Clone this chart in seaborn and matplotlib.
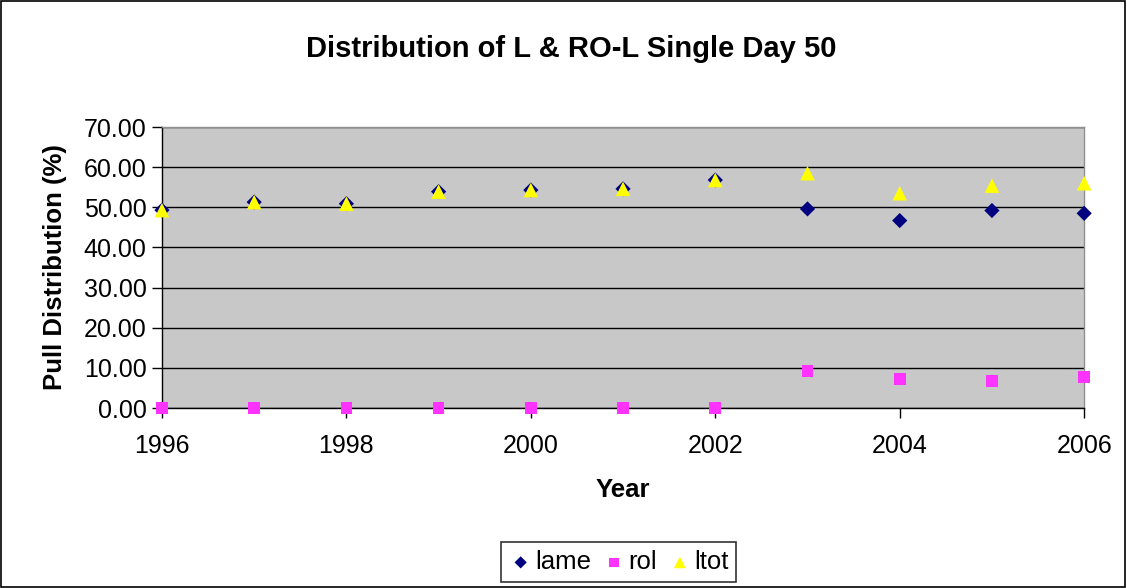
import matplotlib
matplotlib.use("Agg")
import matplotlib.pyplot as plt
import seaborn as sns
import pandas as pd

years = [1996, 1997, 1998, 1999, 2000, 2001, 2002, 2003, 2004, 2005, 2006]
lame = [49.3, 51.3, 50.9, 53.9, 54.3, 54.6, 56.8, 49.6, 46.7, 49.2, 48.5]
rol = [0.0, 0.0, 0.0, 0.0, 0.0, 0.0, 0.0, 9.3, 7.3, 6.8, 7.8]
ltot = [49.3, 51.3, 50.9, 53.9, 54.3, 54.6, 56.8, 58.5, 53.5, 55.4, 56.0]
series_names = ["lame", "rol", "ltot"]
y_ticks = [0, 10, 20, 30, 40, 50, 60, 70]
x_ticks = [1996, 1998, 2000, 2002, 2004, 2006]

sns.set_theme(style="white")
plt.rcParams['font.family'] = ['Liberation Sans', 'DejaVu Sans']
plt.rcParams['text.color'] = 'black'
plt.rcParams['axes.labelcolor'] = 'black'
plt.rcParams['xtick.color'] = 'black'
plt.rcParams['ytick.color'] = 'black'

df = pd.DataFrame({
    "Year": years * 3,
    "value": lame + rol + ltot,
    "series": ["lame"] * len(years) + ["rol"] * len(years) + ["ltot"] * len(years),
})

fig = plt.figure(figsize=(11.27, 5.88), dpi=100)
ax = fig.add_axes([0.1437, 0.306, 0.962 - 0.1437, 0.784 - 0.306])
ax.set_facecolor("#C8C8C8")

palette = {"lame": "#000080", "rol": "#FF33FF", "ltot": "#FFFF00"}
markers = {"lame": "D", "rol": "s", "ltot": "^"}
sizes = {"lame": 60, "rol": 70, "ltot": 110}
for name in series_names:
    sub = df[df["series"] == name]
    sns.scatterplot(data=sub, x="Year", y="value", marker=markers[name],
                    color=palette[name], s=sizes[name], edgecolor="none",
                    ax=ax, label=name, zorder=3, clip_on=False)

ax.set_xlim(1996, 2006)
ax.set_ylim(0, 70)
ax.set_yticks(y_ticks)
ax.set_yticklabels([f"{v:.2f}" for v in y_ticks])
ax.set_xticks(x_ticks)
ax.set_xticklabels([str(v) for v in x_ticks])
ax.yaxis.grid(True, color="black", linewidth=1)
ax.set_axisbelow(True)
ax.tick_params(axis="both", labelsize=18, direction="out", length=7, width=1,
               color="black", labelcolor="black", left=True, bottom=True)
ax.tick_params(axis="x", pad=12)
ax.tick_params(axis="y", pad=4)
for s in ["left", "bottom"]:
    ax.spines[s].set_color("black")
    ax.spines[s].set_linewidth(1)
for s in ["right", "top"]:
    ax.spines[s].set_color("#909090")
    ax.spines[s].set_linewidth(1)

ax.set_xlabel("Year", fontsize=18.5, fontweight="bold", labelpad=14, color="black")
ax.set_ylabel("Pull Distribution (%)", fontsize=18.5, fontweight="bold", labelpad=12, color="black")
fig.suptitle("Distribution of L & RO-L Single Day 50", fontsize=21, fontweight="bold",
             x=0.507, y=0.94, color="black")

handles, labels = ax.get_legend_handles_labels()
leg = ax.legend(handles, labels, loc="center", bbox_to_anchor=(0.549, 0.044),
                bbox_transform=fig.transFigure, ncol=3, fontsize=18.5, frameon=True,
                edgecolor="black", fancybox=False, handletextpad=0.1, columnspacing=0.45,
                borderpad=0.3, handlelength=0.9, markerscale=0.8)
leg.get_frame().set_linewidth(1.2)

fig.patches.append(plt.Rectangle((0.001, 0.001), 0.997, 0.997, transform=fig.transFigure,
                                 fill=False, edgecolor="black", linewidth=1.2))
fig.savefig("out.png", dpi=100, facecolor="white")
